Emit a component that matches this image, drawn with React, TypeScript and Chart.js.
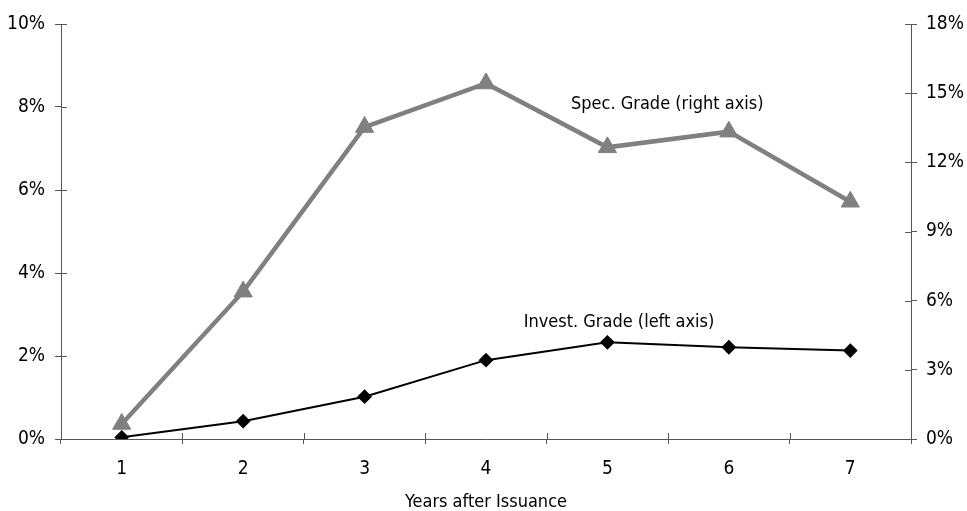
import React, { useEffect, useRef } from "react";
import { Chart, registerables } from "chart.js";

Chart.register(...registerables);

const categories = ["1", "2", "3", "4", "5", "6", "7"];
const investGrade = [0.04, 0.43, 1.02, 1.9, 2.33, 2.21, 2.13];
const specGrade = [0.65, 6.39, 13.53, 15.42, 12.65, 13.33, 10.29];
const leftTicks = [0, 2, 4, 6, 8, 10];
const rightTicks = [0, 3, 6, 9, 12, 15, 18];
const xTitle = "Years after Issuance";
const specLabel = { text: "Spec. Grade (right axis)", x: 3.7, y: 14.5 };
const investLabel = { text: "Invest. Grade (left axis)", x: 3.31, y: 2.8 };

const FONT = "'Liberation Sans Narrow', 'Arial Narrow', 'DejaVu Sans Condensed', sans-serif";
const AXIS_COLOR = "#555555";

const innerTicks = {
  id: "innerTicks",
  afterDraw(chart: any) {
    const ctx = chart.ctx;
    const { yL, yR, x } = chart.scales;
    ctx.save();
    ctx.strokeStyle = AXIS_COLOR;
    ctx.lineWidth = 1;
    ctx.beginPath();
    yL.ticks.forEach((_t: any, i: number) => {
      const py = Math.round(yL.getPixelForTick(i)) + 0.5;
      ctx.moveTo(yL.right, py);
      ctx.lineTo(yL.right + 6, py);
    });
    yR.ticks.forEach((_t: any, i: number) => {
      const py = Math.round(yR.getPixelForTick(i)) + 0.5;
      ctx.moveTo(yR.left - 6, py);
      ctx.lineTo(yR.left, py);
    });
    for (let i = 0; i <= categories.length; i++) {
      const px = Math.round(x.getPixelForValue(i - 0.5)) + 0.5;
      ctx.moveTo(px, x.top);
      ctx.lineTo(px, x.top - 6);
    }
    ctx.stroke();
    ctx.restore();
  },
};

const seriesLabels = {
  id: "seriesLabels",
  afterDatasetsDraw(chart: any) {
    const ctx = chart.ctx;
    const { yL, yR, x } = chart.scales;
    ctx.save();
    ctx.fillStyle = "#000";
    ctx.font = `18px ${FONT}`;
    ctx.textBaseline = "middle";
    ctx.textAlign = "left";
    ctx.fillText(specLabel.text, x.getPixelForValue(specLabel.x), yR.getPixelForValue(specLabel.y));
    ctx.fillText(investLabel.text, x.getPixelForValue(investLabel.x), yL.getPixelForValue(investLabel.y));
    ctx.restore();
  },
};

export default function App() {
  const ref = useRef<HTMLCanvasElement>(null);
  useEffect(() => {
    document.body.style.margin = "0";
    const chart = new Chart(ref.current!, {
      type: "line",
      data: {
        labels: categories,
        datasets: [
          {
            label: "Spec. Grade (right axis)",
            data: specGrade,
            yAxisID: "yR",
            borderColor: "#808080",
            backgroundColor: "#808080",
            borderWidth: 4.5,
            pointStyle: "triangle",
            pointRadius: 10.5,
            pointHoverRadius: 10.5,
            pointBorderWidth: 1,
          },
          {
            label: "Invest. Grade (left axis)",
            data: investGrade,
            yAxisID: "yL",
            borderColor: "#000",
            backgroundColor: "#000",
            borderWidth: 2,
            pointStyle: "rectRot",
            pointRadius: 6,
            pointHoverRadius: 6,
          },
        ],
      },
      options: {
        animation: false,
        responsive: false,
        layout: { padding: { top: 24, left: 0, right: 0, bottom: 0 } },
        plugins: { legend: { display: false }, tooltip: { enabled: false } },
        scales: {
          x: {
            offset: true,
            grid: { offset: true, drawOnChartArea: false, tickLength: 5, color: AXIS_COLOR },
            border: { color: AXIS_COLOR },
            ticks: { color: "#000", font: { family: FONT, size: 19 }, padding: 14 },
            title: {
              display: true,
              text: xTitle,
              color: "#000",
              font: { family: FONT, size: 18, lineHeight: 1 },
              padding: { top: 0, bottom: 0 },
            },
            afterFit(s: any) { s.height = 72; },
          },
          yL: {
            position: "left",
            min: 0,
            max: 10,
            afterBuildTicks(s: any) { s.ticks = leftTicks.map((v) => ({ value: v })); },
            grid: { drawOnChartArea: false, tickLength: 6, color: AXIS_COLOR },
            border: { color: AXIS_COLOR },
            ticks: { color: "#000", font: { family: FONT, size: 19 }, padding: 10, callback: (v: any) => v + "%" },
            afterFit(s: any) { s.width = 61; },
          },
          yR: {
            position: "right",
            min: 0,
            max: 18,
            afterBuildTicks(s: any) { s.ticks = rightTicks.map((v) => ({ value: v })); },
            grid: { drawOnChartArea: false, tickLength: 6, color: AXIS_COLOR },
            border: { color: AXIS_COLOR },
            ticks: { color: "#000", font: { family: FONT, size: 19 }, padding: 9, callback: (v: any) => v + "%" },
            afterFit(s: any) { s.width = 56; },
          },
        },
      },
      plugins: [innerTicks, seriesLabels],
    } as any);
    return () => chart.destroy();
  }, []);
  return <canvas ref={ref} width={967} height={511} style={{ display: "block" }} />;
}
